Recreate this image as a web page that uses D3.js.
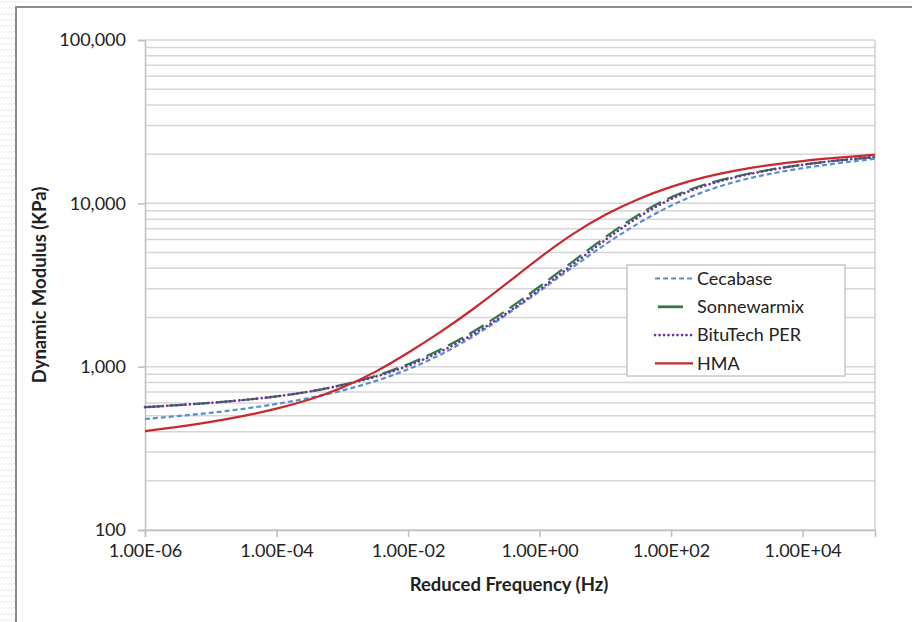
<!DOCTYPE html>
<html>
<head>
<meta charset="utf-8">
<script src="https://cdn.jsdelivr.net/npm/d3@7"></script>
<style>
  body { margin: 0; background: #fff; }
  svg { display: block; font-family: "Lato", "Open Sans", sans-serif; }
</style>
</head>
<body>
<div id="chart"></div>
<script>
var svgWidth = 912;
var svgHeight = 622;

// frequencies every half decade (Hz)
var freqs = [1e-6, 3.16e-6, 1e-5, 3.16e-5, 1e-4, 3.16e-4, 1e-3, 3.16e-3, 1e-2, 3.16e-2,
             1e-1, 3.16e-1, 1, 3.16, 10, 31.6, 100, 316, 1000, 3160, 1e4, 3.16e4, 1e5, 1.26e5];

var cecabase = [478, 498, 521, 551, 590, 641, 711, 811, 957, 1178,
                1531, 2075, 2897, 4064, 5636, 7586, 9772, 11885, 13710, 15210, 16440, 17540, 18540, 18750];
var sonnewarmix = [565, 581, 600, 624, 656, 701, 769, 871, 1028, 1271,
                   1637, 2203, 3090, 4385, 6237, 8610, 11040, 13120, 14720, 16110, 17300, 18280, 19050, 19230];
var bitutech = [565, 581, 600, 624, 656, 701, 769, 861, 1005, 1230,
                1578, 2113, 2965, 4207, 5998, 8318, 10760, 12910, 14590, 16030, 17260, 18280, 19050, 19230];
var hma = [403, 427, 458, 498, 551, 625, 740, 920, 1213, 1629,
           2259, 3228, 4667, 6516, 8590, 10690, 12700, 14490, 15995, 17180, 18200, 18970, 19680, 19860];

var seriesNames = ["Cecabase", "Sonnewarmix", "BituTech PER", "HMA"];
var seriesValues = [cecabase, sonnewarmix, bitutech, hma];
var seriesColors = ["#5b8fcb", "#31784a", "#7030a0", "#c8282e"];
var seriesDash = ["5,3", "17,7", "0.1,4.4", null];

var xTicks = [1e-6, 1e-4, 1e-2, 1, 1e2, 1e4];
var xTickLabels = ["1.00E-06", "1.00E-04", "1.00E-02", "1.00E+00", "1.00E+02", "1.00E+04"];
var yTicks = [100, 1000, 10000, 100000];

var margin = { top: 40, left: 145, right: 37, bottom: 92 };
var chartWidth = svgWidth - margin.left - margin.right;
var chartHeight = svgHeight - margin.top - margin.bottom;

var svg = d3.select("#chart")
    .append("svg")
    .attr("width", svgWidth)
    .attr("height", svgHeight);

// zigzag background outside the frame
var defs = svg.append("defs");
var pat = defs.append("pattern")
    .attr("id", "zig")
    .attr("width", 8)
    .attr("height", 6)
    .attr("patternUnits", "userSpaceOnUse");
pat.append("path")
    .attr("d", "M0,3 L2,1 L4,3 L6,1 L8,3")
    .attr("fill", "none")
    .attr("stroke", "#e6e6e6")
    .attr("stroke-width", 0.8);
svg.append("rect")
    .attr("width", svgWidth)
    .attr("height", svgHeight)
    .attr("fill", "url(#zig)");

// chart frame
svg.append("rect")
    .attr("x", 16)
    .attr("y", 7)
    .attr("width", svgWidth)
    .attr("height", svgHeight + 10)
    .attr("fill", "#fff")
    .attr("stroke", "#7f7f7f")
    .attr("stroke-width", 1.8);

var chartGroup = svg.append("g")
    .attr("transform", `translate(${margin.left},${margin.top})`);

var xScale = d3.scaleLog()
    .domain([1e-6, 1.26e5])
    .range([0, chartWidth]);

var yScale = d3.scaleLog()
    .domain([100, 100000])
    .range([chartHeight, 0]);

// horizontal gridlines, major + minor
var gridVals = [];
yTicks.forEach(function(t, i) {
    gridVals.push(t);
    if (i < yTicks.length - 1) {
        for (var k = 2; k <= 9; k++) gridVals.push(t * k);
    }
});
chartGroup.selectAll(".grid")
    .data(gridVals)
    .enter()
    .append("line")
    .attr("x1", 0)
    .attr("x2", chartWidth)
    .attr("y1", d => yScale(d))
    .attr("y2", d => yScale(d))
    .attr("stroke", "#d6d6d6")
    .attr("stroke-width", 1.5);

// plot area right edge
chartGroup.append("line")
    .attr("x1", chartWidth).attr("x2", chartWidth)
    .attr("y1", 0).attr("y2", chartHeight)
    .attr("stroke", "#d0d0d0")
    .attr("stroke-width", 1.5);

// axes
var xAxis = d3.axisBottom(xScale)
    .tickValues(xTicks)
    .tickSize(7)
    .tickPadding(7)
    .tickFormat((d, i) => xTickLabels[i]);
var yAxis = d3.axisLeft(yScale)
    .tickValues(yTicks)
    .tickSize(7)
    .tickPadding(12)
    .tickFormat(d3.format(","));

var gx = chartGroup.append("g")
    .attr("transform", `translate(0,${chartHeight})`)
    .call(xAxis);
var gy = chartGroup.append("g")
    .call(yAxis);

[gx, gy].forEach(function(g) {
    g.select(".domain").attr("stroke", "#bfbfbf").attr("stroke-width", 1.5);
    g.selectAll(".tick line").attr("stroke", "#bfbfbf").attr("stroke-width", 1.5);
    g.selectAll(".tick text")
        .attr("fill", "#222")
        .style("font-size", "18px")
        .style("font-family", "Lato, sans-serif");
});
gy.selectAll(".tick text").attr("dy", "0.32em");

// series lines
var line = d3.line()
    .x((d, i) => xScale(freqs[i]))
    .y(d => yScale(d))
    .curve(d3.curveBasis);

chartGroup.selectAll(".series")
    .data(seriesValues)
    .enter()
    .append("path")
    .attr("class", "series")
    .attr("d", d => line(d))
    .attr("fill", "none")
    .attr("stroke", (d, i) => seriesColors[i])
    .attr("stroke-width", (d, i) => i == 2 ? 2.6 : 2.2)
    .attr("stroke-linecap", (d, i) => i == 2 ? "round" : "butt")
    .attr("stroke-dasharray", (d, i) => seriesDash[i]);

// axis titles
svg.append("text")
    .attr("x", 509)
    .attr("y", 591)
    .attr("text-anchor", "middle")
    .style("font-size", "18.5px")
    .style("font-weight", "bold")
    .attr("fill", "#222")
    .text("Reduced Frequency (Hz)");

svg.append("text")
    .attr("transform", "translate(46,285) rotate(-90)")
    .attr("text-anchor", "middle")
    .style("font-size", "18.5px")
    .style("font-weight", "bold")
    .attr("fill", "#222")
    .text("Dynamic Modulus (KPa)");

// legend
var legend = svg.append("g")
    .attr("transform", "translate(627,265)");
legend.append("rect")
    .attr("width", 218)
    .attr("height", 111)
    .attr("fill", "#fff")
    .attr("stroke", "#c8c8c8")
    .attr("stroke-width", 1.5);

var legendRows = legend.selectAll(".row")
    .data(seriesNames)
    .enter()
    .append("g")
    .attr("transform", (d, i) => `translate(0,${13.5 + i * 28.3})`);
legendRows.append("line")
    .attr("x1", (d, i) => i == 1 ? 31 : 28)
    .attr("x2", (d, i) => i == 1 ? 56 : 66)
    .attr("y1", 0).attr("y2", 0)
    .attr("stroke", (d, i) => seriesColors[i])
    .attr("stroke-width", (d, i) => i == 2 ? 2.6 : (i == 1 ? 2.8 : 2.2))
    .attr("stroke-linecap", (d, i) => i == 2 ? "round" : "butt")
    .attr("stroke-dasharray", (d, i) => i == 1 ? null : seriesDash[i]);
legendRows.append("text")
    .attr("x", 70)
    .attr("y", 0)
    .attr("dy", "0.35em")
    .style("font-size", "18px")
    .attr("fill", "#222")
    .text(d => d);
</script>
</body>
</html>
